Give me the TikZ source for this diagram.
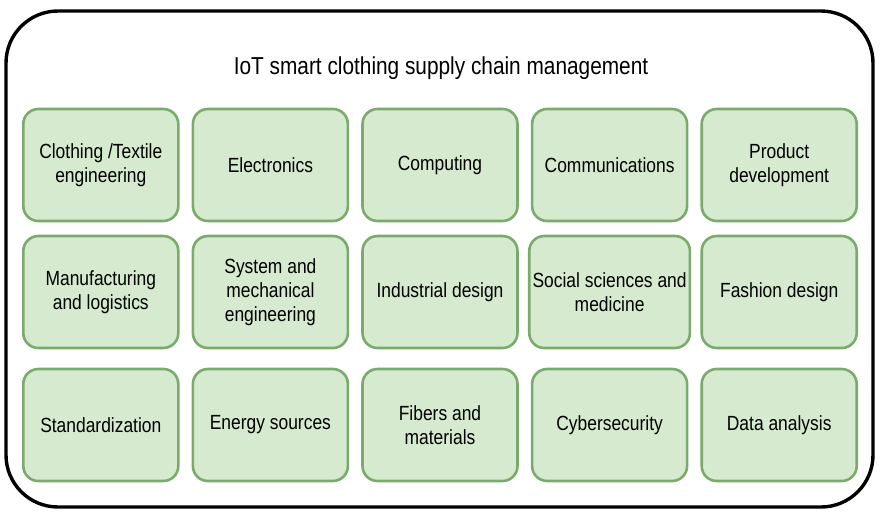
\documentclass[tikz,border=0pt]{standalone}
\usepackage{fontspec}
\setmainfont{Liberation Sans}[FakeStretch=0.85]

\definecolor{boxfill}{RGB}{214,234,207}
\definecolor{boxline}{RGB}{122,170,108}

\begin{document}
\begin{tikzpicture}[
    x=1pt, y=-1pt,
    node distance=169.6pt,
    field/.style={rectangle, rounded corners=15pt, draw=boxline, line width=2.6pt, fill=boxfill,
        align=center, minimum width=155pt, minimum height=112pt, font=\fontsize{20.5}{24}\selectfont},
    frame/.style={draw=black, line width=3.4pt, rounded corners=52pt}
]
\useasboundingbox (0,0) rectangle (880,515);

\draw[frame] (6,11) rectangle (873,507);
\node[font=\fontsize{24.5}{28}\selectfont] (title) at (441,68) {IoT smart clothing supply chain management};

% first row
\node[field] (textile) at (100.8,165) {Clothing /Textile\\engineering};
\node[field] (electro) [right of=textile] {Electronics};
\node[field] (comput) [right of=electro] {Computing};
\node[field] (comms) [right of=comput] {Communications};
\node[field] (product) [right of=comms] {Product\\development};

% second row
\node[field] (manuf) at (100.8,292) {Manufacturing\\and logistics};
\node[field] (sysmech) [right of=manuf] {System and\\mechanical\\engineering};
\node[field] (indus) [right of=sysmech] {Industrial design};
\node[field] (social) [right of=indus] {Social sciences and\\medicine};
\node[field] (fashion) [right of=social] {Fashion design};

% third row
\node[field] (standard) at (100.8,425) {Standardization};
\node[field] (energy) [right of=standard] {Energy sources};
\node[field] (fibers) [right of=energy] {Fibers and\\materials};
\node[field] (cyber) [right of=fibers] {Cybersecurity};
\node[field] (data) [right of=cyber] {Data analysis};

\end{tikzpicture}
\end{document}
